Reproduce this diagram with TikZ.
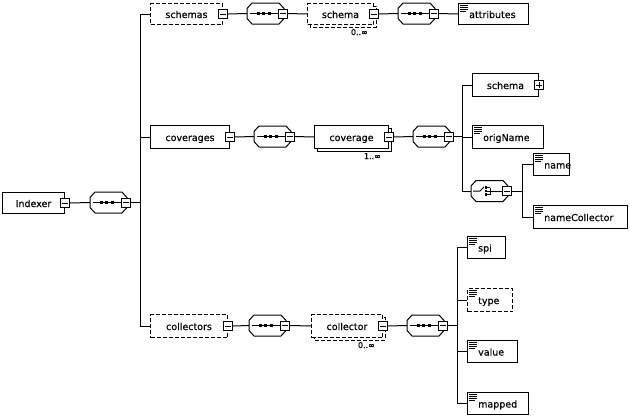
\documentclass[tikz,border=0pt]{standalone}
\usepackage{fontspec}
\setmainfont{DejaVu Sans}
\newfontfamily\lblfont{DejaVu Sans}[FakeBold=0.4]
\tikzset{
  conn/.style={line width=1pt},
  ebox/.style={draw, line width=1pt, fill=white, inner sep=0pt, rectangle},
  opt/.style={dash pattern=on 4pt off 2pt},
  lbl/.style={font=\lblfont\fontsize{9.5}{11}\selectfont, inner sep=0pt, anchor=base},
  occ/.style={font=\lblfont\fontsize{8}{9}\selectfont, inner sep=0pt, anchor=base east},
  mbox/.style={draw, line width=1pt, fill=white, inner sep=0pt, minimum size=9pt},
}
% element box: [opts]{name}{x1}{y1}{x2}{y2}
\newcommand\mkbox[6][]{%
  \node[ebox,#1,anchor=north west,minimum width={(#5)-(#3)},minimum height={(#6)-(#4)}] (#2) at (#3,#4) {};}
% shadow of repeated element: [opts]{x1}{y1}{x2}{y2}
\newcommand\mkshadow[5][]{%
  \draw[line width=1pt,fill=white,#1] ({#2+3},{#3+3}) rectangle ({#4+3},{#5+3});}
% minus box at east of node
\newcommand\minusat[1]{%
  \node[mbox] (#1m) at (#1.east) {};
  \draw[conn] ([xshift=-3pt]#1m.center) -- ([xshift=3pt]#1m.center);}
\newcommand\plusat[1]{%
  \node[mbox] (#1p) at (#1.east) {};
  \draw[conn] ([xshift=-3pt]#1p.center) -- ([xshift=3pt]#1p.center);
  \draw[conn] ([yshift=-3pt]#1p.center) -- ([yshift=3pt]#1p.center);}
% leaf icon
\newcommand\leaficon[1]{%
  \foreach \k in {2,4,6} \draw[line width=0.8pt] ([xshift=2pt,yshift=-\k pt]#1.north west) -- ++(8,0);
  \draw[line width=0.8pt] ([xshift=2pt,yshift=-8pt]#1.north west) -- ++(6,0);}
% label centered
\newcommand\clabel[2]{\node[lbl] at ([yshift=-4pt]#1.center) {#2};}
\newcommand\llabel[2]{\node[lbl,anchor=base west] at ([xshift=11pt,yshift=-4pt]#1.west) {#2};}
% octagon: {name}{L}{yc}
\newcommand\octa[3]{%
  \node[inner sep=0pt, minimum width=37pt, minimum height=21pt, anchor=west] (#1) at (#2,#3) {};
  \draw[conn, fill=white] ({#2},{#3-5}) -- ({#2+5},{#3-10.5}) -- ({#2+32},{#3-10.5}) -- ({#2+37},{#3-5})
    -- ({#2+37},{#3+5}) -- ({#2+32},{#3+10.5}) -- ({#2+5},{#3+10.5}) -- ({#2},{#3+5}) -- cycle;}
\newcommand\seqoct[3]{%
  \octa{#1}{#2}{#3}
  \draw[conn] ({#2+3},{#3}) -- ({#2+31},{#3});
  \foreach \dx in {11,16.5,22} \fill ({#2+\dx-1.5},{#3-1.5}) rectangle ({#2+\dx+1.5},{#3+1.5});
  \node[mbox] (#1m) at ({#2+35.5},{#3}) {};
  \draw[conn] ({#2+32.5},{#3}) -- ({#2+38.5},{#3});}
\newcommand\choct[3]{%
  \octa{#1}{#2}{#3}
  \draw[conn] ({#2+2},{#3}) -- ({#2+9},{#3}) -- ({#2+13},{#3-4});
  \foreach \dy in {-3.5,0,3.5} {
    \fill ({#2+13.5},{#3+\dy-1.3}) rectangle ({#2+16},{#3+\dy+1.3});
    \draw[line width=0.8pt] ({#2+16},{#3+\dy}) -- ({#2+19},{#3+\dy});}
  \draw[line width=0.8pt] ({#2+19},{#3-3.5}) -- ({#2+19},{#3+3.5});
  \draw[conn] ({#2+19},{#3}) -- ({#2+31},{#3});
  \node[mbox] (#1m) at ({#2+35.5},{#3}) {};
  \draw[conn] ({#2+32.5},{#3}) -- ({#2+38.5},{#3});}

\begin{document}
\begin{tikzpicture}[x=1pt,y=-1pt]
\useasboundingbox (0,0) rectangle (630,418);

% ---------- root ----------
\mkbox{Indexer}{2}{192}{64}{213}
\clabel{Indexer}{Indexer}
\minusat{Indexer}
\seqoct{s0}{90}{202.5}
\coordinate (b0) at (140,202.5);

% ---------- row 1 ----------
\mkbox[opt]{schemas}{150}{3}{222}{24}
\clabel{schemas}{schemas}
\minusat{schemas}
\seqoct{s1}{247}{13.5}
\mkshadow[opt]{307}{3}{373}{24}
\mkbox[opt]{schemaA}{307}{3}{373}{24}
\clabel{schemaA}{schema}
\minusat{schemaA}
\node[occ] (occA) at (368,35) {0..∞};
\seqoct{s2}{398}{13.5}
\mkbox{attributes}{458}{3}{528}{24}
\leaficon{attributes}
\llabel{attributes}{attributes}

% ---------- row 2 ----------
\mkbox{coverages}{150}{125}{229}{148}
\clabel{coverages}{coverages}
\minusat{coverages}
\seqoct{s3}{254}{136.5}
\mkshadow{314}{125}{388}{148}
\mkbox{coverage}{314}{125}{388}{148}
\clabel{coverage}{coverage}
\minusat{coverage}
\node[occ] (occB) at (381,159) {1..∞};
\seqoct{s4}{413}{136.5}
\coordinate (b2) at (462,136.5);
\mkbox{schemaB}{472}{73}{538}{96}
\clabel{schemaB}{schema}
\plusat{schemaB}
\mkbox{origName}{472}{125}{543}{148}
\leaficon{origName}
\llabel{origName}{origName}
\choct{ch}{471}{191}
\coordinate (b3) at (522,191);
\mkbox{name}{533}{153}{569}{175}
\leaficon{name}
\llabel{name}{name}
\mkbox{nameCollector}{533}{205}{627}{228}
\leaficon{nameCollector}
\llabel{nameCollector}{nameCollector}

% ---------- row 3 ----------
\mkbox[opt]{collectors}{150}{314}{227}{337}
\clabel{collectors}{collectors}
\minusat{collectors}
\seqoct{s5}{249}{325.5}
\mkshadow[opt]{311}{314}{382}{337}
\mkbox[opt]{collector}{311}{314}{382}{337}
\clabel{collector}{collector}
\minusat{collector}
\node[occ] (occC) at (375,348) {0..∞};
\seqoct{s6}{407}{325.5}
\coordinate (b4) at (457,325.5);
\mkbox{spi}{467}{236}{505}{258}
\leaficon{spi}
\llabel{spi}{spi}
\mkbox[opt]{type}{467}{288}{512}{311}
\leaficon{type}
\llabel{type}{type}
\mkbox{value}{467}{340}{517}{362}
\leaficon{value}
\llabel{value}{value}
\mkbox{mapped}{467}{392}{528}{414}
\leaficon{mapped}
\llabel{mapped}{mapped}

% ---------- connectors ----------
\draw[conn] (Indexerm.east) -- (s0.west);
\draw[conn] (s0m.east) -- (b0);
\draw[conn] (b0) |- (schemas.west);
\draw[conn] (b0) |- (coverages.west);
\draw[conn] (b0) |- (collectors.west);

\draw[conn] (schemasm.east) -- (s1.west);
\draw[conn] (s1m.east) -- (schemaA.west);
\draw[conn] (schemaAm.east) -- (s2.west);
\draw[conn] (s2m.east) -- (attributes.west);

\draw[conn] (coveragesm.east) -- (s3.west);
\draw[conn] (s3m.east) -- (coverage.west);
\draw[conn] (coveragem.east) -- (s4.west);
\draw[conn] (s4m.east) -- (b2);
\draw[conn] (b2) |- (schemaB.west);
\draw[conn] (b2) |- (origName.west);
\draw[conn] (b2) |- (ch.west);
\draw[conn] (chm.east) -- (b3);
\draw[conn] (b3) |- (name.west);
\draw[conn] (b3) |- (nameCollector.west);

\draw[conn] (collectorsm.east) -- (s5.west);
\draw[conn] (s5m.east) -- (collector.west);
\draw[conn] (collectorm.east) -- (s6.west);
\draw[conn] (s6m.east) -- (b4);
\draw[conn] (b4) |- (spi.west);
\draw[conn] (b4) |- (type.west);
\draw[conn] (b4) |- (value.west);
\draw[conn] (b4) |- (mapped.west);
\end{tikzpicture}
\end{document}
